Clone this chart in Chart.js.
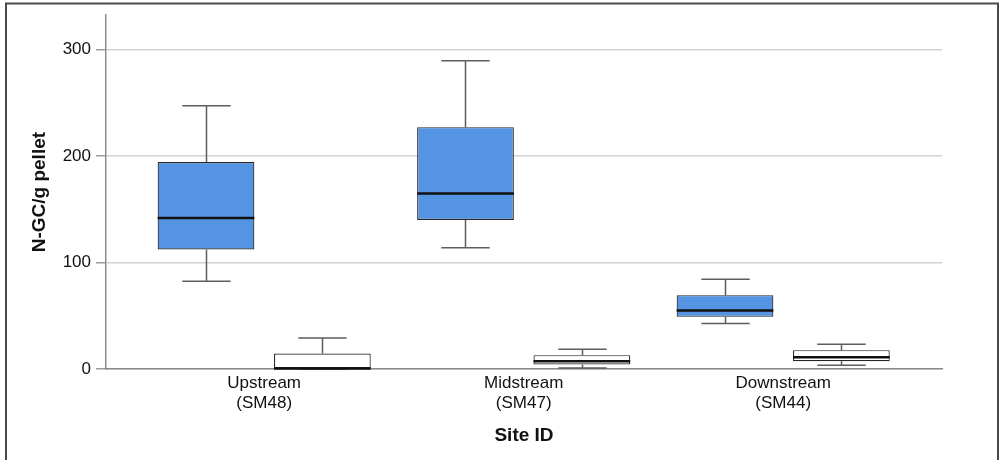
<!DOCTYPE html>
<html>
<head>
<meta charset="utf-8">
<script src="https://cdn.jsdelivr.net/npm/chart.js@4.4.1/dist/chart.umd.min.js"></script>
<style>
  html, body { margin: 0; padding: 0; background: #fff; }
  canvas { display: block; }
</style>
</head>
<body>
<canvas id="chart" width="1005" height="460"></canvas>
<script>
// Sites along the river
const sites = ['Upstream', 'Midstream', 'Downstream'];
const siteCodes = ['(SM48)', '(SM47)', '(SM44)'];
const yTicks = [0, 100, 200, 300];

// Blue boxes: five-number summaries per site
const blueMin    = [82.5, 114, 42.8];
const blueQ1     = [112.3, 140, 49];
const blueMedian = [142, 165, 55];
const blueQ3     = [194.6, 227.3, 69.4];
const blueMax    = [247.3, 289.6, 84.4];

// White boxes: five-number summaries per site
const whiteMin    = [0, 1, 3.6];
const whiteQ1     = [0, 4.2, 7.3];
const whiteMedian = [0.4, 7.3, 11.1];
const whiteQ3     = [14.6, 13, 17.7];
const whiteMax    = [29.2, 18.6, 23.3];

Chart.defaults.font.family = "'Liberation Sans', Arial, Helvetica, sans-serif";
Chart.defaults.color = '#111';

function boxData(q1, q3) {
  return sites.map((_, i) => ({ x: i, y: [q1[i], q3[i]] }));
}

// Whiskers behind the boxes, medians on top of them
const boxPlot = {
  id: 'boxPlot',
  beforeDatasetsDraw(chart) {
    const { ctx, scales: { y } } = chart;
    ctx.save();
    ctx.strokeStyle = '#5e5e5e';
    ctx.lineWidth = 1.5;
    chart.data.datasets.forEach((ds, di) => {
      const meta = chart.getDatasetMeta(di);
      meta.data.forEach((bar, i) => {
        const { x, width } = bar.getProps(['x', 'width'], true);
        const cx = Math.round(x) + 0.5;
        const half = width / 4;
        const yMax = y.getPixelForValue(ds.whiskers.max[i]);
        const yMin = y.getPixelForValue(ds.whiskers.min[i]);
        const yQ3 = y.getPixelForValue(ds.data[i].y[1]);
        const yQ1 = y.getPixelForValue(ds.data[i].y[0]);
        ctx.beginPath();
        ctx.moveTo(cx, yQ3); ctx.lineTo(cx, yMax);
        ctx.moveTo(cx - half, yMax); ctx.lineTo(cx + half, yMax);
        ctx.moveTo(cx, yQ1); ctx.lineTo(cx, yMin);
        ctx.moveTo(cx - half, yMin); ctx.lineTo(cx + half, yMin);
        ctx.stroke();
      });
    });
    ctx.restore();
  },
  afterDatasetsDraw(chart) {
    const { ctx, scales: { y } } = chart;
    ctx.save();
    ctx.strokeStyle = '#111';
    ctx.lineWidth = 2.5;
    chart.data.datasets.forEach((ds, di) => {
      const meta = chart.getDatasetMeta(di);
      meta.data.forEach((bar, i) => {
        const { x, width } = bar.getProps(['x', 'width'], true);
        const ym = y.getPixelForValue(ds.whiskers.median[i]);
        ctx.beginPath();
        ctx.moveTo(x - width / 2, ym);
        ctx.lineTo(x + width / 2, ym);
        ctx.stroke();
      });
    });
    ctx.restore();
  }
};

// White page with a thin frame
const pageFrame = {
  id: 'pageFrame',
  beforeDraw(chart) {
    const { ctx, width, height } = chart;
    ctx.save();
    ctx.fillStyle = '#fff';
    ctx.fillRect(0, 0, width, height);
    ctx.restore();
  },
  afterDraw(chart) {
    const { ctx, height } = chart;
    ctx.save();
    ctx.strokeStyle = '#4a4a4a';
    ctx.lineWidth = 2;
    ctx.beginPath();
    ctx.moveTo(6, height);
    ctx.lineTo(6, 3.5);
    ctx.lineTo(998, 3.5);
    ctx.lineTo(998, height);
    ctx.stroke();
    ctx.restore();
  }
};

new Chart(document.getElementById('chart'), {
  type: 'bar',
  data: {
    datasets: [
      {
        label: 'Blue',
        data: boxData(blueQ1, blueQ3),
        whiskers: { min: blueMin, median: blueMedian, max: blueMax },
        backgroundColor: '#5494e2',
        borderColor: '#262626',
        borderWidth: 1.2,
        borderSkipped: false
      },
      {
        label: 'White',
        data: boxData(whiteQ1, whiteQ3),
        whiskers: { min: whiteMin, median: whiteMedian, max: whiteMax },
        backgroundColor: '#ffffff',
        borderColor: '#262626',
        borderWidth: 1.2,
        borderSkipped: false
      }
    ]
  },
  options: {
    responsive: false,
    animation: false,
    devicePixelRatio: 1,
    categoryPercentage: 0.897,
    barPercentage: 0.831,
    layout: { padding: { top: 15, right: 63, left: 0, bottom: 0 } },
    plugins: {
      legend: { display: false },
      tooltip: { enabled: false }
    },
    scales: {
      x: {
        type: 'linear',
        offset: false,
        min: -0.6096,
        max: 2.612,
        afterBuildTicks: (s) => { s.ticks = sites.map((_, i) => ({ value: i })); },
        afterFit: (s) => { s.height = 91; },
        ticks: {
          callback: (v, i) => [sites[i], siteCodes[i]],
          font: { size: 17 },
          color: '#111',
          padding: 4,
          maxRotation: 0,
          autoSkip: false
        },
        grid: { display: false, drawTicks: false, offset: false },
        border: { display: true, color: '#8a8a8a', width: 1.5 },
        title: {
          display: true,
          text: 'Site ID',
          font: { size: 19, weight: 'bold' },
          color: '#111',
          padding: { top: 0, bottom: 13 }
        }
      },
      y: {
        min: 0,
        max: 332.5,
        afterBuildTicks: (s) => { s.ticks = yTicks.map(v => ({ value: v })); },
        afterFit: (s) => { s.width = 106; },
        ticks: {
          font: { size: 17 },
          color: '#111',
          padding: 5
        },
        grid: {
          color: '#d2d2d2',
          lineWidth: 1.5,
          tickColor: '#9a9a9a',
          tickLength: 10
        },
        border: { display: true, color: '#8a8a8a', width: 1.5 },
        title: {
          display: true,
          text: 'N-GC/g pellet',
          font: { size: 19, weight: 'bold' },
          color: '#111',
          padding: { top: 28, bottom: 0 }
        }
      }
    }
  },
  plugins: [boxPlot, pageFrame]
});
</script>
</body>
</html>
